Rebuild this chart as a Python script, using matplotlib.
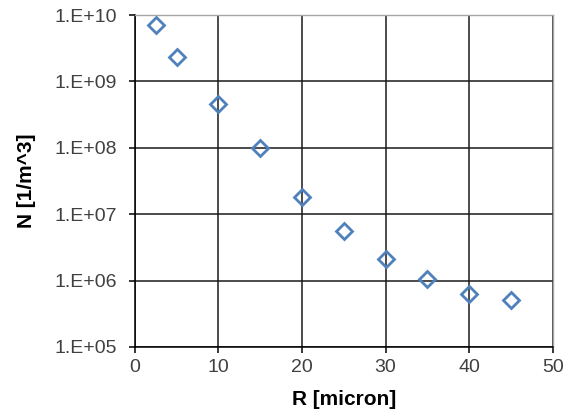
import math
import matplotlib
matplotlib.use('Agg')
import matplotlib.pyplot as plt
from matplotlib.ticker import FuncFormatter, LogLocator

plt.rcParams['font.family'] = ['Liberation Sans', 'DejaVu Sans']

# Promień [mikron] i koncentracja N [1/m^3]
R = [2.5, 5, 10, 15, 20, 25, 30, 35, 40, 45]
N = [7.0e9, 2.3e9, 4.5e8, 1.0e8, 1.8e7, 5.6e6, 2.1e6, 1.04e6, 6.2e5, 5.1e5]

fig = plt.figure(figsize=(5.64, 4.18), dpi=100)
ax = fig.add_axes([0.239, 0.170, 0.741, 0.794])

ax.plot(R, N, linestyle='none', marker='D', markersize=8.5,
        markerfacecolor='none', markeredgecolor='#4f81bd', markeredgewidth=2, zorder=3)

ax.set_yscale('log')
ax.set_xlim(0, 50)
ax.set_ylim(1e5, 1e10)
ax.set_xticks(range(0, 51, 10))
ax.yaxis.set_major_locator(LogLocator(base=10, numticks=10))
ax.yaxis.set_minor_locator(LogLocator(base=10, subs=[]))
ax.yaxis.set_major_formatter(FuncFormatter(lambda v, p: '1.E+%02d' % round(math.log10(v))))

ax.grid(True, which='major', color='#1a1a1a', linewidth=1.1)
ax.set_axisbelow(True)
for s in ['left', 'bottom']:
    ax.spines[s].set_color('black')
    ax.spines[s].set_linewidth(1.1)
for s in ['top', 'right']:
    ax.spines[s].set_color('#a6a6a6')
    ax.spines[s].set_linewidth(1.0)

ax.tick_params(axis='both', direction='out', length=4, width=1.1, colors='black',
               labelsize=14, labelcolor='#404040')
ax.tick_params(axis='y', pad=9)
ax.tick_params(axis='x', pad=5)

ax.set_xlabel('R [micron]', fontsize=15, fontweight='bold', labelpad=10)
ax.set_ylabel('N [1/m^3]', fontsize=15, fontweight='bold', labelpad=13)

plt.savefig('out.png', dpi=100)
plt.close(fig)
